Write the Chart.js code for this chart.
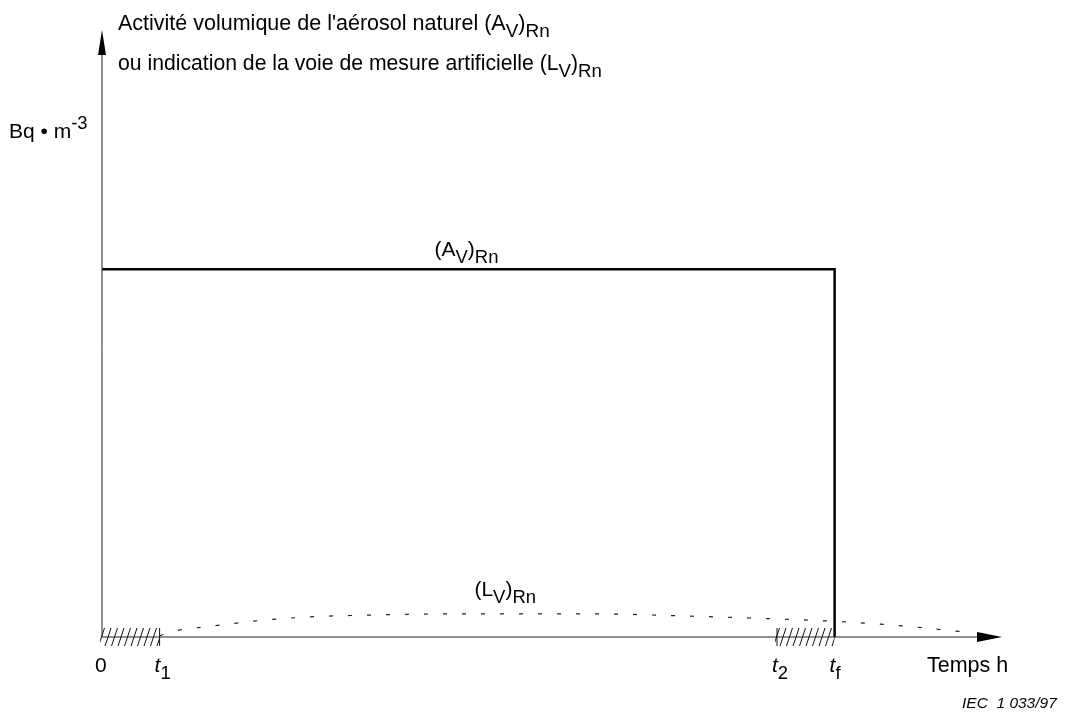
<!DOCTYPE html>
<html>
<head>
<meta charset="utf-8">
<script src="https://cdn.jsdelivr.net/npm/chart.js@4/dist/chart.umd.min.js"></script>
<style>
  body { margin: 0; background: #fff; }
  #wrap { width: 1065px; height: 714px; position: relative; }
</style>
</head>
<body>
<div id="wrap"><canvas id="myChart" width="1065" height="714"></canvas></div>
<script>
// time axis in arbitrary units (0..100), activity in arbitrary units (0..100)
const tickNames = ['1', '2', 'f'];       // subscripts of t
const tickTimes = [6.4, 75, 81.4];

// natural aerosol activity (A_V)Rn : constant then drops at tf
const timeA = [0, 81.4, 81.4];
const valA = [60.6, 60.6, 0];

// artificial channel indication (L_V)Rn
const timeL = [6.4, 8.1, 12.3, 16.7, 22.9, 29.4, 37.9, 48.7, 55.1, 63.9, 72.6, 81.1, 87.6, 96.1];
const valL = [0.2, 1.0, 1.8, 2.6, 3.3, 3.6, 3.8, 3.8, 3.8, 3.5, 3.1, 2.6, 2.0, 0.8];

// hatched intervals on the time axis
const hatchFrom = [0, 75];
const hatchTo = [6.4, 81.4];

const FONT = '"Liberation Sans", Arial, sans-serif';

// draw text with sub/superscript parts
function drawRich(ctx, parts, x, y, size, align, italic) {
  let total = 0;
  parts.forEach(p => {
    let s = p.sub || p.sup ? size * 0.88 : size;
    ctx.font = (p.it || italic ? 'italic ' : '') + s + 'px ' + FONT;
    total += ctx.measureText(p.t).width;
  });
  let cx = align === 'center' ? x - total / 2 : x;
  parts.forEach(p => {
    let s = p.sub || p.sup ? size * 0.88 : size;
    ctx.font = (p.it || italic ? 'italic ' : '') + s + 'px ' + FONT;
    let dy = p.sub ? size * 0.33 : (p.sup ? -size * 0.45 : 0);
    ctx.textAlign = 'left';
    ctx.textBaseline = 'alphabetic';
    ctx.fillText(p.t, cx, y + dy);
    cx += ctx.measureText(p.t).width;
  });
  return total;
}

const drawExtras = {
  id: 'drawExtras',
  afterDatasetsDraw(chart) {
    const ctx = chart.ctx;
    const xs = chart.scales.x, ys = chart.scales.y;
    const x0 = xs.getPixelForValue(0), y0 = ys.getPixelForValue(0);
    const yTop = ys.getPixelForValue(100), xEnd = xs.getPixelForValue(100);
    ctx.save();
    ctx.strokeStyle = '#222';
    ctx.fillStyle = '#000';
    ctx.lineWidth = 1;
    // axes
    ctx.beginPath();
    ctx.moveTo(x0, y0); ctx.lineTo(x0, yTop + 24);
    ctx.moveTo(x0, y0); ctx.lineTo(xEnd - 24, y0);
    ctx.stroke();
    // arrow heads
    ctx.beginPath();
    ctx.moveTo(x0, yTop); ctx.lineTo(x0 - 4, yTop + 25); ctx.lineTo(x0 + 4, yTop + 25); ctx.closePath();
    ctx.fill();
    ctx.beginPath();
    ctx.moveTo(xEnd, y0); ctx.lineTo(xEnd - 25, y0 - 5); ctx.lineTo(xEnd - 25, y0 + 5); ctx.closePath();
    ctx.fill();

    // hatching
    ctx.strokeStyle = '#111';
    for (let i = 0; i < hatchFrom.length; i++) {
      const a = xs.getPixelForValue(hatchFrom[i]), b = xs.getPixelForValue(hatchTo[i]);
      ctx.save();
      ctx.beginPath();
      ctx.rect(a - 2, y0 - 9, b - a + 2, 18);
      ctx.clip();
      ctx.beginPath();
      for (let hx = a - 10; hx < b + 10; hx += 6.5) {
        ctx.moveTo(hx, y0 + 9);
        ctx.lineTo(hx + 6, y0 - 9);
      }
      ctx.stroke();
      ctx.restore();
    }
    // tick marks at t1 and t2
    [0, 1].forEach(i => {
      const tx = xs.getPixelForValue(tickTimes[i]);
      ctx.beginPath();
      ctx.moveTo(tx, y0 - 9); ctx.lineTo(tx, y0 + 9);
      ctx.stroke();
    });

    // tick labels
    ctx.fillStyle = '#000';
    drawRich(ctx, [{ t: '0' }], x0 - 7, y0 + 35, 21, 'left');
    tickNames.forEach((n, i) => {
      const tx = xs.getPixelForValue(tickTimes[i]);
      drawRich(ctx, [{ t: 't', it: true }, { t: n, sub: true }], tx - 5, y0 + 35, 21, 'left');
    });
    drawRich(ctx, [{ t: 'Temps h' }], 927, y0 + 35, 21.5, 'left');
    drawRich(ctx, [{ t: 'IEC  1 033/97' }], 962, 708, 15.5, 'left', true);

    // axis titles
    drawRich(ctx, [{ t: "Activité volumique de l'aérosol naturel (A" }, { t: 'V', sub: true }, { t: ')' }, { t: 'Rn', sub: true }], 118, 30, 21.5, 'left');
    drawRich(ctx, [{ t: 'ou indication de la voie de mesure artificielle (L' }, { t: 'V', sub: true }, { t: ')' }, { t: 'Rn', sub: true }], 118, 70, 21.2, 'left');
    drawRich(ctx, [{ t: 'Bq \u2022 m' }, { t: '-3', sup: true }], 9, 138, 21, 'left');

    // series labels
    drawRich(ctx, [{ t: '(A' }, { t: 'V', sub: true }, { t: ')' }, { t: 'Rn', sub: true }], xs.getPixelForValue(40.5), ys.getPixelForValue(valA[0]) - 13, 21, 'center');
    drawRich(ctx, [{ t: '(L' }, { t: 'V', sub: true }, { t: ')' }, { t: 'Rn', sub: true }], xs.getPixelForValue(44.8), ys.getPixelForValue(valL[6]) - 18, 21, 'center');
    ctx.restore();
  }
};

const ctx = document.getElementById('myChart').getContext('2d');
const myChart = new Chart(ctx, {
  type: 'scatter',
  data: {
    datasets: [
      {
        label: '(AV)Rn',
        data: timeA.map((t, i) => ({ x: t, y: valA[i] })),
        showLine: true,
        borderColor: '#000',
        borderWidth: 2.5,
        pointRadius: 0,
        borderJoinStyle: 'miter',
        tension: 0
      },
      {
        label: '(LV)Rn',
        data: timeL.map((t, i) => ({ x: t, y: valL[i] })),
        showLine: true,
        borderColor: '#222',
        borderWidth: 1.2,
        borderDash: [4, 15],
        pointRadius: 0,
        cubicInterpolationMode: 'monotone'
      }
    ]
  },
  options: {
    responsive: false,
    animation: false,
    layout: { padding: { left: 102, right: 63, top: 30, bottom: 77 } },
    plugins: { legend: { display: false }, tooltip: { enabled: false } },
    scales: {
      x: { type: 'linear', min: 0, max: 100, display: false },
      y: { type: 'linear', min: 0, max: 100, display: false }
    }
  },
  plugins: [drawExtras]
});
</script>
</body>
</html>
